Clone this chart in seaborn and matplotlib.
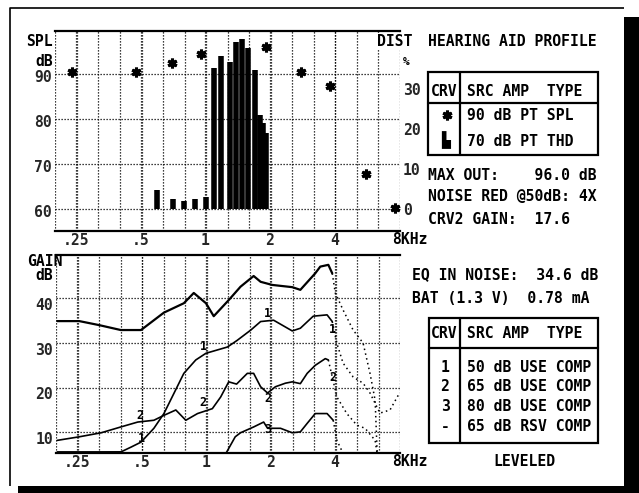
import numpy as np
import matplotlib
matplotlib.use("Agg")
import matplotlib.pyplot as plt
import seaborn as sns
from matplotlib.patches import Rectangle
from matplotlib.ticker import NullFormatter
from matplotlib.transforms import ScaledTranslation

# --- top panel: 90 dB pure tone SPL (kHz, dB) ---
spl_freq = [0.24, 0.476, 0.70, 0.95, 1.91, 2.79, 3.81, 5.6, 7.64]
spl_db = [90.6, 90.6, 92.6, 94.6, 96.0, 90.6, 87.4, 67.9, 60.4]

# --- top panel: 70 dB pure tone THD bars (kHz, %) ---
thd_freq = [0.593, 0.708, 0.792, 0.896, 1.003, 1.098, 1.184, 1.30,
            1.384, 1.48, 1.58, 1.70, 1.79, 1.86, 1.92]
thd_pct = [4.8, 2.6, 2.1, 2.6, 3.15, 35.4, 38.2, 36.9,
           41.9, 42.5, 40.3, 34.8, 23.6, 21.6, 19.1]

# --- bottom panel: gain curves (kHz, dB) ---
rsv_freq = [0.202, 0.256, 0.317, 0.40, 0.497, 0.636, 0.788, 0.877, 1.0,
            1.087, 1.277, 1.45, 1.67, 1.80, 2.04, 2.53, 2.76, 3.24, 3.42,
            3.73, 3.89, 4.02, 4.37, 4.87, 5.42, 5.84, 6.17, 6.3, 6.5]
rsv_gain = [34.9, 34.9, 34.0, 32.9, 32.9, 36.8, 38.9, 41.2, 38.9,
            36.0, 39.6, 42.6, 45.0, 43.7, 43.0, 42.5, 41.9, 45.6, 47.1,
            47.5, 45.6, 41.2, 37.4, 32.9, 30.0, 23.2, 17.2, 6.0, 2.0]

crv1_freq = [0.202, 0.30, 0.40, 0.447, 0.497, 0.571, 0.636, 0.708, 0.788,
             0.896, 1.0, 1.26, 1.40, 1.62, 1.80, 2.07, 2.53, 2.76, 3.17,
             3.68, 3.89, 4.09, 4.37, 4.87, 5.42, 5.84, 6.5, 7.24, 8.0]
crv1_gain = [5.5, 5.5, 5.6, 6.7, 7.8, 10.9, 14.2, 18.7, 23.2,
             26.2, 27.7, 29.1, 30.6, 32.9, 34.8, 35.1, 32.7, 33.3, 36.0,
             36.3, 34.8, 29.9, 25.5, 22.4, 21.0, 18.8, 14.3, 15.0, 18.7]

crv2_freq = [0.202, 0.256, 0.324, 0.40, 0.48, 0.571, 0.636, 0.723, 0.805,
             0.913, 1.071, 1.171, 1.277, 1.39, 1.56, 1.67, 1.80, 1.94,
             2.11, 2.35, 2.53, 2.76, 2.97, 3.24, 3.61, 3.73, 4.09, 4.55,
             5.07, 5.54, 6.17, 6.3, 6.5]
crv2_gain = [8.2, 9.0, 9.9, 11.2, 12.3, 12.7, 13.8, 15.0, 12.7,
             14.2, 15.3, 17.9, 21.3, 20.8, 23.2, 23.2, 20.2, 18.8,
             20.2, 21.0, 21.3, 20.9, 23.2, 25.0, 26.5, 26.2, 17.9, 14.2,
             11.6, 10.9, 8.2, 5.3, 2.6]

crv3_freq = [0.202, 0.256, 0.40, 0.447, 1.171, 1.24, 1.37, 1.45, 1.67,
             1.86, 1.94, 2.23, 2.53, 2.76, 2.97, 3.24, 3.68, 3.93, 4.09,
             4.37, 4.5]
crv3_gain = [5.6, 5.6, 5.6, 4.2, 3.8, 5.3, 9.0, 9.9, 11.2,
             12.3, 10.9, 10.9, 9.9, 10.1, 12.0, 14.2, 14.2, 12.7, 8.2,
             5.3, 3.3]

# curve number marks (kHz, dB)
crv1_marks = [(0.497, 8.6), (0.97, 29.2), (1.93, 36.6), (3.9, 33.0)]
crv2_marks = [(0.49, 13.8), (0.97, 16.6), (1.94, 17.6), (3.9, 22.2)]
crv3_marks = [(1.94, 10.6)]

xtick_vals = [0.25, 0.5, 1, 2, 4]
xtick_text = ['.25', '.5', '1', '2', '4']

crv_ids = ['1', '2', '3', '-']
crv_src = ['50 dB USE COMP', '65 dB USE COMP', '80 dB USE COMP', '65 dB RSV COMP']

sns.set_style("white")
MONO = ['DejaVu Sans Mono', 'DejaVu Sans']
plt.rcParams['font.family'] = MONO
plt.rcParams['font.weight'] = 'bold'
FS = 10.6
DOTS = (0, (1, 1.4))

fig = plt.figure(figsize=(6.39, 4.93), dpi=100)
W, H = 639, 493


def box(left, top, right, bottom):
    return [left / W, 1 - bottom / H, (right - left) / W, (bottom - top) / H]


def style_freq_axis(ax):
    ax.set_xscale('log')
    ax.set_xlim(0.1992, 8.03)
    ax.set_xticks(0.2 * 2 ** (np.arange(17) / 3), minor=True)
    ax.xaxis.set_minor_formatter(NullFormatter())
    ax.set_xticks(xtick_vals, xtick_text)
    ax.tick_params(axis='both', which='both', length=0, labelsize=FS, pad=1.5)
    ax.tick_params(axis='y', pad=2)
    ax.grid(True, which='both', axis='x', color='black', lw=0.9, ls=DOTS)
    ax.grid(True, which='major', axis='y', color='black', lw=0.9, ls=DOTS)
    ax.set_axisbelow(True)
    for side in ['left', 'right']:
        ax.spines[side].set_visible(False)
    for side in ['top', 'bottom']:
        ax.spines[side].set_color('black')
        ax.spines[side].set_linewidth(1.6)
    ax.set_xlabel('')
    ax.set_ylabel('')


def shift_labels(labels, dy):
    for lab in labels:
        lab.set_transform(lab.get_transform() +
                          ScaledTranslation(0, -dy / 72, fig.dpi_scale_trans))


# ---------------- top panel ----------------
ax_top = fig.add_axes(box(55, 30.7, 400, 231))
style_freq_axis(ax_top)
ax_top.set_ylim(55.2, 99.7)
ax_top.set_yticks([60, 70, 80, 90])
shift_labels(ax_top.get_yticklabels(), 1.5)
ax_top.plot(spl_freq, spl_db, ls='none', marker=(6, 2, 0), ms=7,
            mew=2.2, color='black', zorder=5)

ax_thd = ax_top.twinx()
ax_thd.set_ylim(-5.43, 44.65)
ax_thd.set_yticks([0, 10, 20, 30])
ax_thd.tick_params(axis='y', length=0, labelsize=FS, pad=2)
for s in ax_thd.spines.values():
    s.set_visible(False)
ax_thd.vlines(thd_freq, 0, thd_pct, color='black', lw=4.0)

# ---------------- bottom panel ----------------
ax_bot = fig.add_axes(box(56, 255, 400, 453))
style_freq_axis(ax_bot)
ax_bot.set_ylim(5.37, 49.7)
ax_bot.set_yticks([10, 20, 30, 40])
shift_labels(ax_bot.get_yticklabels(), 4)

ROLL = 3.95
for fr, gn, lw in [(rsv_freq, rsv_gain, 1.6), (crv1_freq, crv1_gain, 1.2),
                   (crv2_freq, crv2_gain, 1.2), (crv3_freq, crv3_gain, 1.2)]:
    fr = np.array(fr)
    gn = np.array(gn)
    k = int(np.sum(fr <= ROLL))
    sns.lineplot(x=fr[:k], y=gn[:k], ax=ax_bot, color='black', lw=lw,
                 sort=False, estimator=None)
    sns.lineplot(x=fr[k - 1:], y=gn[k - 1:], ax=ax_bot, color='black',
                 lw=1.1, ls=(0, (1, 2.2)), sort=False, estimator=None)
ax_bot.set_xlabel('')
ax_bot.set_ylabel('')

for marks, tag in [(crv1_marks, '1'), (crv2_marks, '2'), (crv3_marks, '3')]:
    for fx, gy in marks:
        ax_bot.text(fx, gy, tag, fontsize=8.5, ha='center', va='center',
                    color='black')

# ---------------- overlay: labels, tables, frame ----------------
ov = fig.add_axes([0, 0, 1, 1])
ov.set_xlim(0, W)
ov.set_ylim(H, 0)
ov.axis('off')
ov.patch.set_alpha(0)


def put(x, y, s, ha='left', **kw):
    ov.text(x, y, s, fontsize=kw.pop('size', FS), ha=ha, va='center',
            color='black', **kw)


put(53, 41.7, 'SPL', ha='right')
put(53, 61.7, 'dB', ha='right')
put(377, 41.7, 'DIST', bbox=dict(facecolor='white', edgecolor='none', pad=0.5))
put(406, 61.7, '%', ha='center', size=8)
put(392, 240, '8KHz')

put(27, 261.7, 'GAIN')
put(53, 276, 'dB', ha='right')
put(392, 462, '8KHz')

put(428.3, 41.5, 'HEARING AID PROFILE')

ov.add_patch(Rectangle((428.3, 71.7), 169.4, 83.3, fill=False, lw=1.6,
                       edgecolor='black'))
ov.plot([428.3, 597.7], [103.3, 103.3], color='black', lw=1.6)
ov.plot([460, 460], [71.7, 155], color='black', lw=1.6)
put(431, 91.7, 'CRV')
put(466.7, 91.7, 'SRC AMP  TYPE')
ov.plot([446.7], [115], ls='none', marker=(6, 2, 0), ms=7, mew=2.2,
        color='black')
put(446, 140.5, '\u2599', ha='center')
put(466.7, 116, '90 dB PT SPL')
put(466.7, 141.7, '70 dB PT THD')

put(428.3, 175, 'MAX OUT:    96.0 dB')
put(428.3, 196.7, 'NOISE RED @50dB: 4X')
put(428.3, 220, 'CRV2 GAIN:  17.6')

put(411.7, 275, 'EQ IN NOISE:  34.6 dB')
put(411.7, 298.3, 'BAT (1.3 V)  0.78 mA')

ov.add_patch(Rectangle((429.3, 318.3), 169, 125, fill=False, lw=1.6,
                       edgecolor='black'))
ov.plot([429.3, 598.3], [347.7, 347.7], color='black', lw=1.6)
ov.plot([460, 460], [318.3, 443.3], color='black', lw=1.6)
put(431, 333.3, 'CRV')
put(466.7, 333.3, 'SRC AMP  TYPE')
for i, (cid, src) in enumerate(zip(crv_ids, crv_src)):
    yy = 367 + i * 19.7
    put(445, yy, cid, ha='center')
    put(466.7, yy, src)

put(493, 462, 'LEVELED')

# frame with drop shadow
ov.plot([10, 10, 624], [486, 8, 8], color='black', lw=1.2, solid_capstyle='butt')
ov.add_patch(Rectangle((624, 17), 15, 476, color='black', lw=0))
ov.add_patch(Rectangle((18, 486), 621, 7, color='black', lw=0))

fig.savefig('out.png', dpi=100)
